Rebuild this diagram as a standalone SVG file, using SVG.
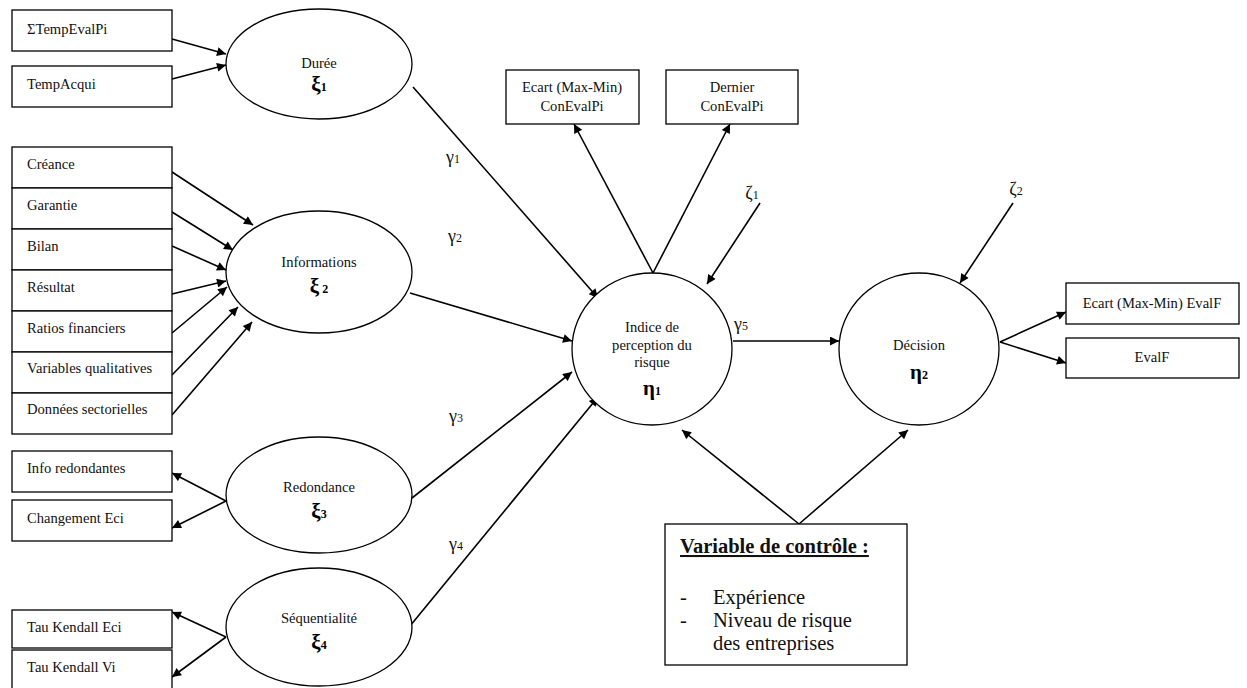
<svg xmlns="http://www.w3.org/2000/svg" width="1247" height="688" viewBox="0 0 1247 688">
<defs>
<marker id="ah" viewBox="0 0 10 10" refX="10" refY="5" markerWidth="11" markerHeight="9" markerUnits="userSpaceOnUse" orient="auto">
<path d="M0,0 L10,5 L0,10 z" fill="#000"/>
</marker>
<style>
.box{fill:#fff;stroke:#000;stroke-width:1.3}
.ell{fill:#fff;stroke:#000;stroke-width:1.3}
.lbl{font-family:"Liberation Serif","Times New Roman",serif;font-size:14.6px;fill:#111}
.mid{text-anchor:middle}
.greek{font-family:"Liberation Serif","DejaVu Serif",serif;font-size:18px;fill:#111;text-anchor:middle}
.sym{font-family:"Liberation Serif","DejaVu Serif",serif;font-size:21px;font-weight:bold;fill:#000;text-anchor:middle}
.sub{font-size:12px}
.con{stroke:#000;stroke-width:1.6;fill:none;marker-end:url(#ah)}
.ctl{font-family:"Liberation Serif","Times New Roman",serif;font-size:20.5px;fill:#111}
</style>
</defs>
<rect width="1247" height="688" fill="#fff"/>

<g id="connectors">
<line class="con" x1="172" y1="39" x2="226" y2="54"/>
<line class="con" x1="172" y1="79" x2="226" y2="65"/>
<line class="con" x1="172" y1="172" x2="253" y2="225"/>
<line class="con" x1="172" y1="212" x2="233" y2="250"/>
<line class="con" x1="172" y1="246" x2="226" y2="270"/>
<line class="con" x1="172" y1="294" x2="226" y2="281"/>
<line class="con" x1="172" y1="333" x2="227" y2="287"/>
<line class="con" x1="172" y1="375" x2="238" y2="307"/>
<line class="con" x1="172" y1="415" x2="252" y2="322"/>
<line class="con" x1="226" y1="501" x2="172" y2="473"/>
<line class="con" x1="226" y1="501" x2="172" y2="528"/>
<line class="con" x1="226" y1="637" x2="172" y2="612"/>
<line class="con" x1="226" y1="637" x2="172" y2="677"/>
<line class="con" x1="413" y1="87" x2="598" y2="298"/>
<line class="con" x1="410" y1="293" x2="572" y2="341"/>
<line class="con" x1="412" y1="498" x2="572" y2="372"/>
<line class="con" x1="410" y1="626" x2="598" y2="397"/>
<line class="con" x1="653" y1="273" x2="574" y2="124"/>
<line class="con" x1="653" y1="273" x2="730" y2="124"/>
<line class="con" x1="760" y1="203" x2="707" y2="284"/>
<line class="con" x1="1013" y1="203" x2="960" y2="283"/>
<line class="con" x1="733" y1="341" x2="839" y2="341"/>
<line class="con" x1="1000" y1="342" x2="1066" y2="312"/>
<line class="con" x1="1000" y1="342" x2="1066" y2="363"/>
<line class="con" x1="799" y1="524" x2="682" y2="430"/>
<line class="con" x1="799" y1="524" x2="908" y2="430"/>
</g>

<g id="n-sumtemp"><rect class="box" x="12" y="10" width="160" height="41"/><text class="lbl" x="27" y="34">ΣTempEvalPi</text></g>
<g id="n-tempacqui"><rect class="box" x="12" y="66" width="160" height="41"/><text class="lbl" x="27" y="89">TempAcqui</text></g>

<g id="n-creance"><rect class="box" x="12" y="147" width="160" height="41"/><text class="lbl" x="27" y="169">Créance</text></g>
<g id="n-garantie"><rect class="box" x="12" y="188" width="160" height="41"/><text class="lbl" x="27" y="210">Garantie</text></g>
<g id="n-bilan"><rect class="box" x="12" y="229" width="160" height="41"/><text class="lbl" x="27" y="251">Bilan</text></g>
<g id="n-resultat"><rect class="box" x="12" y="270" width="160" height="41"/><text class="lbl" x="27" y="292">Résultat</text></g>
<g id="n-ratios"><rect class="box" x="12" y="311" width="160" height="41"/><text class="lbl" x="27" y="333">Ratios financiers</text></g>
<g id="n-varqual"><rect class="box" x="12" y="352" width="160" height="41"/><text class="lbl" x="27" y="373">Variables qualitatives</text></g>
<g id="n-donnees"><rect class="box" x="12" y="393" width="160" height="41"/><text class="lbl" x="27" y="414">Données sectorielles</text></g>

<g id="n-inforedond"><rect class="box" x="12" y="451" width="160" height="41"/><text class="lbl" x="27" y="473">Info redondantes</text></g>
<g id="n-changement"><rect class="box" x="12" y="500" width="160" height="41"/><text class="lbl" x="27" y="523">Changement Eci</text></g>

<g id="n-taueci"><rect class="box" x="12" y="610" width="160" height="38"/><text class="lbl" x="27" y="632">Tau Kendall Eci</text></g>
<g id="n-tauvi"><rect class="box" x="12" y="650" width="160" height="40"/><text class="lbl" x="27" y="672">Tau Kendall Vi</text></g>

<g id="n-duree"><ellipse class="ell" cx="319" cy="64" rx="93" ry="55"/><text class="lbl mid" x="319" y="68">Durée</text><text class="sym" x="319" y="91">ξ<tspan class="sub">1</tspan></text></g>
<g id="n-informations"><ellipse class="ell" cx="319" cy="272" rx="93" ry="61"/><text class="lbl mid" x="319" y="267">Informations</text><text class="sym" x="319" y="293">ξ<tspan class="sub" dx="3">2</tspan></text></g>
<g id="n-redondance"><ellipse class="ell" cx="319" cy="495" rx="93" ry="58"/><text class="lbl mid" x="319" y="492">Redondance</text><text class="sym" x="319" y="518">ξ<tspan class="sub">3</tspan></text></g>
<g id="n-sequentialite"><ellipse class="ell" cx="319" cy="627" rx="93" ry="59"/><text class="lbl mid" x="319" y="623">Séquentialité</text><text class="sym" x="319" y="649">ξ<tspan class="sub">4</tspan></text></g>

<g id="n-ecartcon"><rect class="box" x="506" y="70" width="133" height="54"/><text class="lbl mid" x="572" y="92">Ecart (Max-Min)</text><text class="lbl mid" x="572" y="111">ConEvalPi</text></g>
<g id="n-derniercon"><rect class="box" x="666" y="70" width="132" height="54"/><text class="lbl mid" x="732" y="92">Dernier</text><text class="lbl mid" x="732" y="111">ConEvalPi</text></g>

<g id="n-indice"><ellipse class="ell" cx="652" cy="349" rx="80" ry="76"/><text class="lbl mid" x="652" y="332">Indice de</text><text class="lbl mid" x="652" y="350">perception du</text><text class="lbl mid" x="652" y="367">risque</text><text class="sym" x="652" y="395">η<tspan class="sub">1</tspan></text></g>
<g id="n-decision"><ellipse class="ell" cx="919" cy="349" rx="80" ry="76"/><text class="lbl mid" x="919" y="350">Décision</text><text class="sym" x="919" y="379">η<tspan class="sub">2</tspan></text></g>

<g id="n-ecartevalf"><rect class="box" x="1066" y="283" width="173" height="41"/><text class="lbl mid" x="1152" y="308">Ecart (Max-Min) EvalF</text></g>
<g id="n-evalf"><rect class="box" x="1066" y="338" width="173" height="40"/><text class="lbl mid" x="1152" y="362">EvalF</text></g>

<g id="labels">
<text class="greek" x="453" y="163">γ<tspan class="sub">1</tspan></text>
<text class="greek" x="455" y="242">γ<tspan class="sub">2</tspan></text>
<text class="greek" x="456" y="422">γ<tspan class="sub">3</tspan></text>
<text class="greek" x="456" y="550">γ<tspan class="sub">4</tspan></text>
<text class="greek" x="741" y="330">γ<tspan class="sub">5</tspan></text>
<text class="greek" x="752" y="199">ζ<tspan class="sub">1</tspan></text>
<text class="greek" x="1016" y="195">ζ<tspan class="sub">2</tspan></text>
</g>

<g id="n-controle">
<rect class="box" x="665" y="524" width="242" height="141"/>
<text class="ctl" x="680" y="553" font-weight="bold" text-decoration="underline" font-size="21.5px">Variable de contrôle :</text>
<text class="ctl" x="680" y="604">-</text><text class="ctl" x="713" y="604">Expérience</text>
<text class="ctl" x="680" y="627">-</text><text class="ctl" x="713" y="627">Niveau de risque</text>
<text class="ctl" x="713" y="650">des entreprises</text>
</g>
</svg>
